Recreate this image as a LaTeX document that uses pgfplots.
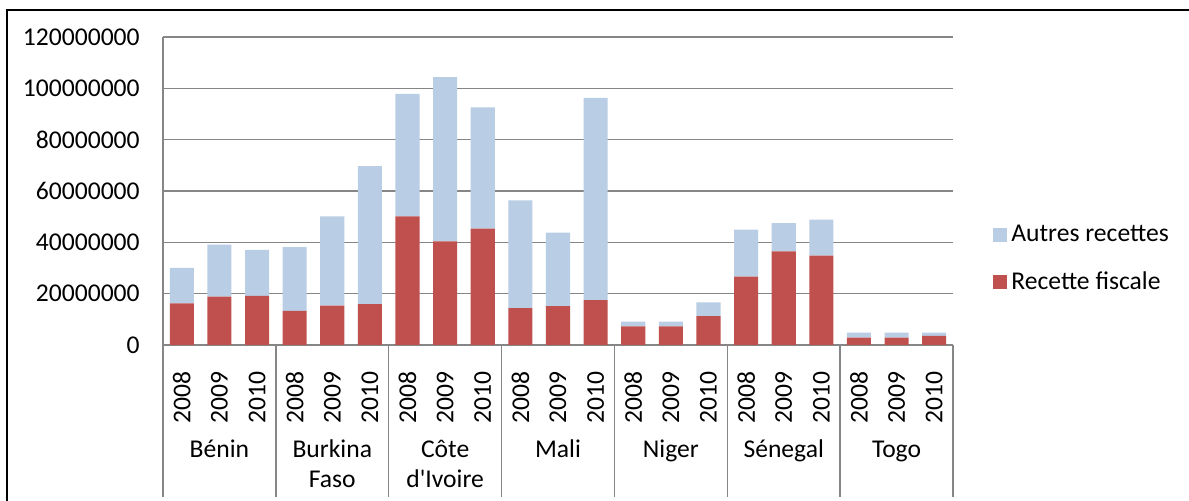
\documentclass[border=0pt]{standalone}
\usepackage{pgfplots}
\pgfplotsset{compat=1.18}
\usepackage{fontspec}
\setmainfont{Carlito}
\definecolor{autres}{HTML}{B9CDE5}
\definecolor{fiscale}{HTML}{C0504D}
\definecolor{gridgray}{HTML}{868686}
\pgfplotstableread{
idx fiscale autres
0  16200000 13800000
1  18800000 20300000
2  19100000 18000000
3  13300000 24800000
4  15300000 34800000
5  15900000 53800000
6  50100000 47700000
7  40400000 64000000
8  45300000 47300000
9  14400000 41900000
10 15100000 28700000
11 17500000 78800000
12 7300000  1800000
13 7300000  1800000
14 11200000 5400000
15 26600000 18300000
16 36500000 11000000
17 34800000 14000000
18 2900000  1900000
19 2900000  1900000
20 3600000  1200000
}\datatable
\begin{document}
\fontsize{12.8}{15.4}\selectfont
\begin{tikzpicture}
\useasboundingbox (0,0) rectangle (594.5pt,250.5pt);
\draw[line width=0.8pt] (3.5pt,0) -- (3.5pt,245.5pt) -- (594.5pt,245.5pt);
\begin{axis}[
  at={(81.5pt,78pt)}, anchor=south west,
  scale only axis, width=395pt, height=154pt,
  ybar stacked, bar width=0.64,
  xmin=-0.5, xmax=20.5, ymin=0, ymax=120000000,
  axis x line*=bottom, axis y line*=left,
  axis line style={gridgray, line width=0.75pt, -},
  xtick={0,...,20},
  xticklabels={2008,2009,2010,2008,2009,2010,2008,2009,2010,2008,2009,2010,2008,2009,2010,2008,2009,2010,2008,2009,2010},
  xticklabel style={rotate=90, anchor=east, yshift=0pt, xshift=-9pt, font=\fontsize{12.8}{15.4}\selectfont},
  ytick={0,20000000,40000000,60000000,80000000,100000000,120000000},
  yticklabels={0,20000000,40000000,60000000,80000000,100000000,120000000},
  scaled y ticks=false,
  yticklabel style={anchor=east, xshift=-7.2pt, font=\fontsize{12.8}{15.4}\selectfont},
  major tick length=0pt,
  ymajorgrids, grid style={gridgray, line width=0.75pt},
  clip=false,
  legend style={at={(1.0506,0.279)}, anchor=west, draw=none, fill=none, inner sep=0pt,
    row sep=9pt, font=\fontsize{12.8}{15.4}\selectfont,
    /tikz/every even column/.append style={column sep=0pt}},
  legend cell align=left,
  reverse legend,
  sq/.style={legend image code/.code={\fill[##1] (0pt,-3.5pt) rectangle (7pt,3.5pt);}},
]
\addplot+[fill=fiscale, draw=none, sq] table[x=idx, y=fiscale] {\datatable};
\addlegendentry{Recette fiscale}
\addplot+[fill=autres, draw=none, sq] table[x=idx, y=autres] {\datatable};
\addlegendentry{Autres recettes}
\pgfplotsinvokeforeach{-0.5,2.5,5.5,8.5,11.5,14.5,17.5,20.5}{
  \draw[gridgray, line width=0.75pt] (axis cs:#1,0) -- ([yshift=-75.8pt]axis cs:#1,0);
}
\node[anchor=base, yshift=-56.2pt] at (axis cs:1,0) {Bénin};
\node[anchor=base, yshift=-56.2pt] at (axis cs:4,0) {Burkina};
\node[anchor=base, yshift=-71.4pt] at (axis cs:4,0) {Faso};
\node[anchor=base, yshift=-56.2pt] at (axis cs:7,0) {Côte};
\node[anchor=base, yshift=-71.4pt] at (axis cs:7,0) {d\textquotesingle Ivoire};
\node[anchor=base, yshift=-56.2pt] at (axis cs:10,0) {Mali};
\node[anchor=base, yshift=-56.2pt] at (axis cs:13,0) {Niger};
\node[anchor=base, yshift=-56.2pt] at (axis cs:16,0) {Sénegal};
\node[anchor=base, yshift=-56.2pt] at (axis cs:19,0) {Togo};
\end{axis}
\end{tikzpicture}
\end{document}
